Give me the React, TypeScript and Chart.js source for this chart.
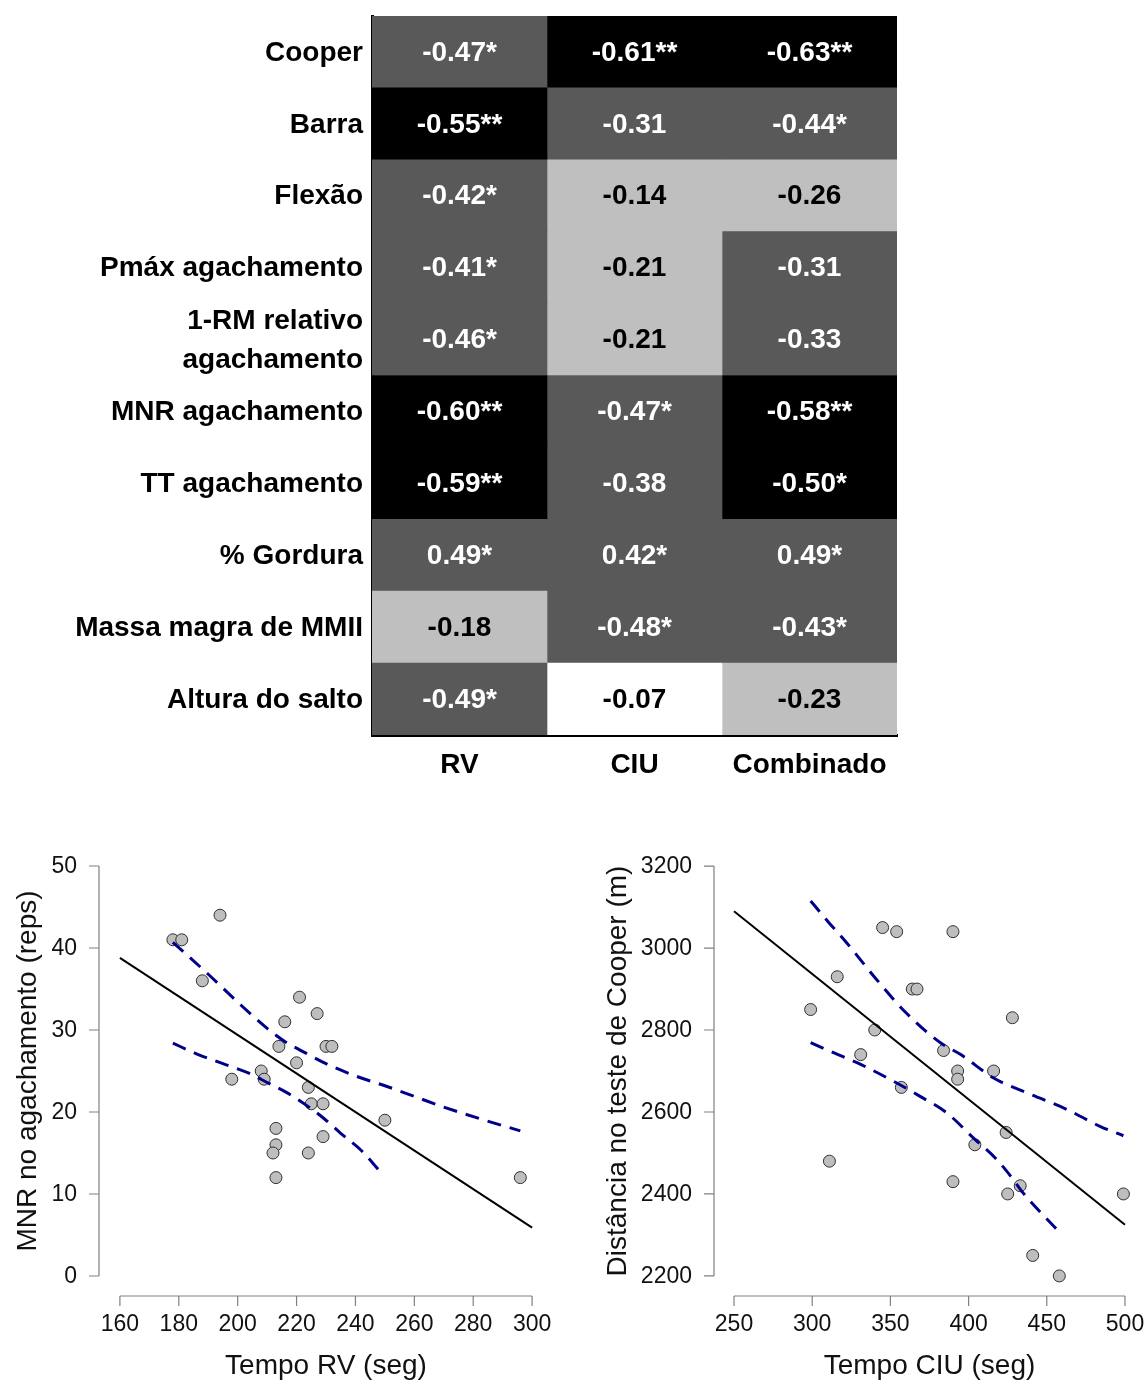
import React, { useEffect, useRef } from 'react';
import { Chart, registerables } from 'chart.js';

Chart.register(...registerables);

const FONT = '"Liberation Sans", Arial, Helvetica, sans-serif';

// ---------- Heatmap data ----------
const rowLabels: (string | string[])[] = [
  'Cooper',
  'Barra',
  'Flexão',
  'Pmáx agachamento',
  ['1-RM relativo', 'agachamento'],
  'MNR agachamento',
  'TT agachamento',
  '% Gordura',
  'Massa magra de MMII',
  'Altura do salto',
];
const colLabels = ['RV', 'CIU', 'Combinado'];
const rvR = [-0.47, -0.55, -0.42, -0.41, -0.46, -0.6, -0.59, 0.49, -0.18, -0.49];
const rvSig = ['*', '**', '*', '*', '*', '**', '**', '*', '', '*'];
const ciuR = [-0.61, -0.31, -0.14, -0.21, -0.21, -0.47, -0.38, 0.42, -0.48, -0.07];
const ciuSig = ['**', '', '', '', '', '*', '', '*', '*', ''];
const combR = [-0.63, -0.44, -0.26, -0.31, -0.33, -0.58, -0.5, 0.49, -0.43, -0.23];
const combSig = ['**', '*', '', '', '', '**', '*', '*', '*', ''];

// ---------- Scatter 1 (RV vs MNR) ----------
const rvX = [194, 178, 181, 188, 198, 208, 209, 214, 216, 221, 220, 227, 230, 232, 224, 225, 229, 229, 213, 213, 212, 224, 213, 250, 296];
const mnrY = [44, 41, 41, 36, 24, 25, 24, 28, 31, 34, 26, 32, 28, 28, 23, 21, 21, 17, 18, 16, 15, 15, 12, 19, 12];
const rvRegX = [160, 300];
const rvRegY = [38.8, 5.9];
const rvUpX = [178, 190, 200, 210, 216, 222, 230, 240, 250, 260, 270, 283, 296];
const rvUpY = [40.7, 36.8, 33.4, 30.2, 28.6, 27.4, 25.9, 24.4, 23.2, 21.9, 20.6, 19.1, 17.7];
const rvLoX = [178, 186, 195, 204, 210, 217, 223, 229, 235, 242, 248];
const rvLoY = [28.4, 27.1, 25.9, 24.7, 23.6, 22.3, 20.9, 19.3, 17.4, 15.3, 12.9];
const rvXTicks = [160, 180, 200, 220, 240, 260, 280, 300];
const mnrYTicks = [0, 10, 20, 30, 40, 50];

// ---------- Scatter 2 (CIU vs Cooper) ----------
const ciuX = [299, 311, 316, 331, 340, 345, 354, 357, 364, 367, 384, 390, 390, 393, 393, 404, 416, 424, 428, 425, 433, 441, 458, 499];
const cooperY = [2850, 2480, 2930, 2740, 2800, 3050, 3040, 2660, 2900, 2900, 2750, 3040, 2430, 2700, 2680, 2520, 2700, 2550, 2830, 2400, 2420, 2250, 2200, 2400];
const ciuRegX = [250, 500];
const ciuRegY = [3090, 2325];
const ciuUpX = [299, 310, 322, 341, 360, 382, 395, 416, 437, 463, 484, 499];
const ciuUpY = [3115, 3065, 3013, 2924, 2842, 2769, 2740, 2683, 2647, 2606, 2565, 2542];
const ciuLoX = [299, 314, 331, 352, 369, 386, 403, 418, 427, 435, 457];
const ciuLoY = [2769, 2744, 2716, 2675, 2638, 2598, 2537, 2484, 2443, 2402, 2311];
const ciuXTicks = [250, 300, 350, 400, 450, 500];
const cooperYTicks = [2200, 2400, 2600, 2800, 3000, 3200];

const shade = (r: number) => {
  const a = Math.abs(r);
  if (a >= 0.5) return '#000000';
  if (a >= 0.3) return '#595959';
  if (a >= 0.1) return '#bfbfbf';
  return '#ffffff';
};

const columnsR = [rvR, ciuR, combR];
const columnsSig = [rvSig, ciuSig, combSig];

const cellTextPlugin = {
  id: 'cellText',
  afterDatasetsDraw(chart: any) {
    const ctx = chart.ctx;
    ctx.save();
    ctx.font = `bold 28px ${FONT}`;
    ctx.textAlign = 'center';
    ctx.textBaseline = 'middle';
    chart.data.datasets.forEach((_ds: any, di: number) => {
      const meta = chart.getDatasetMeta(di);
      meta.data.forEach((bar: any, ri: number) => {
        const p = bar.getProps(['x', 'y', 'base'], true);
        const r = columnsR[di][ri];
        ctx.fillStyle = Math.abs(r) >= 0.3 ? '#ffffff' : '#000000';
        ctx.fillText(r.toFixed(2) + columnsSig[di][ri], (p.x + p.base) / 2, p.y + 1);
      });
    });
    ctx.restore();
  },
  afterDraw(chart: any) {
    const ctx = chart.ctx;
    const ys = chart.scales.y;
    const L = chart.chartArea.left;
    ctx.save();
    ctx.font = `bold 28px ${FONT}`;
    ctx.fillStyle = '#000000';
    ctx.textAlign = 'right';
    ctx.textBaseline = 'middle';
    rowLabels.forEach((lab, i) => {
      const lines = Array.isArray(lab) ? lab : [lab];
      const y = ys.getPixelForValue(i);
      const lh = 39;
      const y0 = y - ((lines.length - 1) * lh) / 2;
      lines.forEach((t, k) => ctx.fillText(t, L - 9, y0 + k * lh + 1));
    });
    ctx.restore();
  },
};

const rAxesPlugin = {
  id: 'rAxes',
  afterDraw(chart: any) {
    const { ctx, chartArea } = chart;
    const xs = chart.scales.x;
    const ys = chart.scales.y;
    const xv = xs.ticks.map((t: any) => t.value);
    const yv = ys.ticks.map((t: any) => t.value);
    const xt = xv.map((v: number) => xs.getPixelForValue(v));
    const yt = yv.map((v: number) => ys.getPixelForValue(v));
    ctx.save();
    ctx.strokeStyle = '#808080';
    ctx.lineWidth = 1.2;
    const L = chartArea.left;
    const B = chartArea.bottom;
    ctx.beginPath();
    ctx.moveTo(L, Math.min(...yt));
    ctx.lineTo(L, Math.max(...yt));
    yt.forEach((y: number) => {
      ctx.moveTo(L, y);
      ctx.lineTo(L - 10, y);
    });
    ctx.moveTo(Math.min(...xt), B);
    ctx.lineTo(Math.max(...xt), B);
    xt.forEach((x: number) => {
      ctx.moveTo(x, B);
      ctx.lineTo(x, B + 10);
    });
    ctx.stroke();
    ctx.fillStyle = '#111111';
    ctx.font = `23px ${FONT}`;
    ctx.textAlign = 'right';
    ctx.textBaseline = 'middle';
    yv.forEach((v: number, i: number) => ctx.fillText(String(v), L - 22, yt[i] + 1));
    ctx.textAlign = 'center';
    xv.forEach((v: number, i: number) => ctx.fillText(String(v), xt[i], B + 29));
    ctx.restore();
  },
};

function heatmapConfig(): any {
  return {
    type: 'bar',
    data: {
      labels: rowLabels.map((l) => (Array.isArray(l) ? l.join(' ') : l)),
      datasets: columnsR.map((col, ci) => ({
        label: colLabels[ci],
        data: col.map(() => [ci, ci + 1]),
        backgroundColor: col.map((r) => shade(r)),
        borderWidth: 0,
        barPercentage: 1,
        categoryPercentage: 1,
        grouped: false,
      })),
    },
    options: {
      indexAxis: 'y',
      responsive: false,
      animation: false,
      layout: { autoPadding: false, padding: { top: 16, right: 13, left: 0, bottom: 0 } },
      plugins: { legend: { display: false }, tooltip: { enabled: false } },
      scales: {
        x: {
          type: 'linear',
          min: 0,
          max: colLabels.length,
          grid: { display: false, drawTicks: false },
          border: { display: true, color: '#000000', width: 3 },
          afterBuildTicks: (s: any) => {
            s.ticks = colLabels.map((_c, i) => ({ value: i + 0.5 }));
          },
          afterFit: (s: any) => {
            s.height = 65;
          },
          ticks: {
            autoSkip: false,
            maxRotation: 0,
            padding: 13,
            color: '#000000',
            font: { family: FONT, size: 28, weight: 'bold' },
            callback: (v: number) => colLabels[Math.floor(v)],
          },
        },
        y: {
          type: 'category',
          grid: { display: false, drawTicks: false },
          border: { display: true, color: '#000000', width: 3 },
          afterFit: (s: any) => {
            s.width = 372;
          },
          ticks: { display: false },
        },
      },
    },
    plugins: [cellTextPlugin],
  };
}

function scatterConfig(p: any): any {
  const toPts = (xs: number[], ys: number[]) => xs.map((x, i) => ({ x, y: ys[i] }));
  return {
    type: 'scatter',
    data: {
      datasets: [
        {
          data: toPts(p.regX, p.regY),
          showLine: true,
          borderColor: '#000000',
          borderWidth: 2,
          pointRadius: 0,
        },
        {
          data: toPts(p.upX, p.upY),
          showLine: true,
          borderColor: '#00008b',
          borderWidth: 3,
          borderDash: [14, 9],
          pointRadius: 0,
          cubicInterpolationMode: 'monotone',
        },
        {
          data: toPts(p.loX, p.loY),
          showLine: true,
          borderColor: '#00008b',
          borderWidth: 3,
          borderDash: [14, 9],
          pointRadius: 0,
          cubicInterpolationMode: 'monotone',
        },
        {
          data: toPts(p.xs, p.ys),
          pointRadius: 6,
          pointBackgroundColor: '#bebebe',
          pointBorderColor: '#303030',
          pointBorderWidth: 1,
        },
      ],
    },
    options: {
      responsive: false,
      animation: false,
      layout: { autoPadding: false, padding: { top: 6, right: p.padRight, left: 0, bottom: 0 } },
      plugins: { legend: { display: false }, tooltip: { enabled: false } },
      scales: {
        x: {
          type: 'linear',
          min: p.xMin,
          max: p.xMax,
          grid: { display: false, drawTicks: false },
          border: { display: false },
          afterBuildTicks: (s: any) => {
            s.ticks = p.xTicks.map((v: number) => ({ value: v }));
          },
          afterFit: (s: any) => {
            s.height = 89;
          },
          ticks: { display: false },
          title: {
            display: true,
            text: p.xTitle,
            color: '#111111',
            font: { family: FONT, size: 28 },
            padding: { top: 0, bottom: 2 },
          },
        },
        y: {
          type: 'linear',
          min: p.yMin,
          max: p.yMax,
          grid: { display: false, drawTicks: false },
          border: { display: false },
          afterBuildTicks: (s: any) => {
            s.ticks = p.yTicks.map((v: number) => ({ value: v }));
          },
          afterFit: (s: any) => {
            s.width = p.yAxisWidth;
          },
          ticks: { display: false },
          title: {
            display: true,
            text: p.yTitle,
            color: '#111111',
            font: { family: FONT, size: 28 },
            padding: { top: p.yTitlePad, bottom: 0 },
          },
        },
      },
    },
    plugins: [rAxesPlugin],
  };
}

function ChartCanvas({ config, left, top, width, height }: any) {
  const ref = useRef<HTMLCanvasElement | null>(null);
  useEffect(() => {
    if (!ref.current) return;
    const chart = new Chart(ref.current, config());
    return () => chart.destroy();
  }, []);
  return (
    <canvas
      ref={ref}
      width={width}
      height={height}
      style={{ position: 'absolute', left, top, width, height, display: 'block' }}
    />
  );
}

export default function App() {
  return (
    <div style={{ position: 'absolute', left: 0, top: 0, width: 1146, height: 1385, background: '#ffffff' }}>
      <ChartCanvas config={heatmapConfig} left={0} top={0} width={910} height={800} />
      <ChartCanvas
        config={() =>
          scatterConfig({
            xs: rvX,
            ys: mnrY,
            regX: rvRegX,
            regY: rvRegY,
            upX: rvUpX,
            upY: rvUpY,
            loX: rvLoX,
            loY: rvLoY,
            xMin: 152.9,
            xMax: 307.1,
            yMin: -2.44,
            yMax: 52.44,
            xTicks: rvXTicks,
            yTicks: mnrYTicks,
            xTitle: 'Tempo RV (seg)',
            yTitle: 'MNR no agachamento (reps)',
            yAxisWidth: 99,
            yTitlePad: 11,
            padRight: 17,
          })
        }
        left={0}
        top={840}
        width={570}
        height={545}
      />
      <ChartCanvas
        config={() =>
          scatterConfig({
            xs: ciuX,
            ys: cooperY,
            regX: ciuRegX,
            regY: ciuRegY,
            upX: ciuUpX,
            upY: ciuUpY,
            loX: ciuLoX,
            loY: ciuLoY,
            xMin: 237.2,
            xMax: 512.8,
            yMin: 2151,
            yMax: 3249,
            xTicks: ciuXTicks,
            yTicks: cooperYTicks,
            xTitle: 'Tempo CIU (seg)',
            yTitle: 'Distância no teste de Cooper (m)',
            yAxisWidth: 139,
            yTitlePad: 26,
            padRight: 1,
          })
        }
        left={575}
        top={840}
        width={571}
        height={545}
      />
    </div>
  );
}
